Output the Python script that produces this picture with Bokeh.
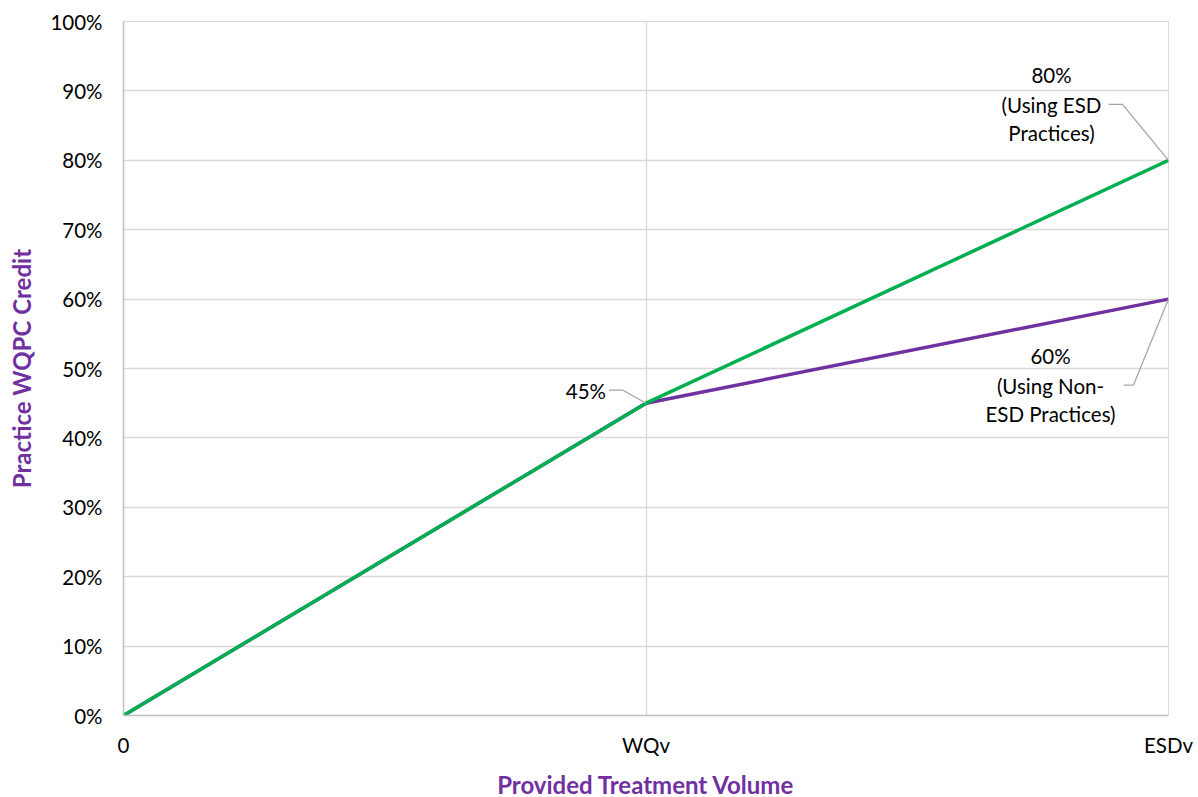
from bokeh.plotting import figure
from bokeh.models import Range1d, FixedTicker, NumeralTickFormatter
from bokeh.core.properties import value
from bokeh.embed import file_html
from bokeh.resources import INLINE

# ---- data ----
x_labels = ["0", "WQv", "ESDv"]
x_pos = [0, 1, 2]
esd_credit = [0.0, 0.45, 0.80]
non_esd_credit = [0.0, 0.45, 0.60]
y_ticks = [0.0, 0.1, 0.2, 0.3, 0.4, 0.5, 0.6, 0.7, 0.8, 0.9, 1.0]

label_45 = ["45%"]
label_80 = ["80%", "(Using ESD", "Practices)"]
label_60 = ["60%", "(Using Non-", "ESD Practices)"]

GREEN = "#00B050"
PURPLE = "#7030A0"
GRID = "#D9D9D9"
FONT = "Lato"
LBL = "20.5px"
TTL = "24px"

FW, FH = 1045, 694
p = figure(frame_width=FW, frame_height=FH, output_backend="svg", toolbar_location=None,
           x_range=Range1d(0, 2), y_range=Range1d(0, 1),
           min_border_left=123, min_border_right=30, min_border_top=21,
           min_border_bottom=82)
p.background_fill_color = "white"
p.border_fill_color = "white"
p.outline_line_color = GRID

dx = 2.0 / FW
dy = 1.0 / FH

# grid
p.xgrid.ticker = FixedTicker(ticks=x_pos)
p.ygrid.ticker = FixedTicker(ticks=y_ticks)
p.xgrid.grid_line_color = GRID
p.ygrid.grid_line_color = GRID
p.xgrid.grid_line_width = 1.3
p.ygrid.grid_line_width = 1.3

# axes
p.xaxis.ticker = FixedTicker(ticks=x_pos)
p.xaxis.major_label_overrides = {x: l for x, l in zip(x_pos, x_labels)}
p.yaxis.ticker = FixedTicker(ticks=y_ticks)
p.yaxis.formatter = NumeralTickFormatter(format="0%")
for ax in (p.xaxis, p.yaxis):
    ax.axis_line_color = "#BFBFBF"
    ax.axis_line_width = 1.5
    ax.major_tick_line_color = None
    ax.minor_tick_line_color = None
    ax.major_tick_out = 0
    ax.major_tick_in = 0
    ax.minor_tick_out = 0
    ax.minor_tick_in = 0
    ax.major_label_text_font = FONT
    ax.major_label_text_font_size = LBL
    ax.major_label_text_color = "#000000"
    ax.axis_label_text_font = FONT
    ax.axis_label_text_font_size = TTL
    ax.axis_label_text_font_style = "bold"
    ax.axis_label_text_color = PURPLE
p.xaxis.major_label_standoff = 17
p.yaxis.major_label_standoff = 21
p.xaxis.axis_label = "Provided Treatment Volume"
p.yaxis.axis_label = "Practice WQPC Credit"
p.xaxis.axis_label_standoff = 10
p.yaxis.axis_label_standoff = 11

# series
p.line(x_pos, non_esd_credit, line_color=PURPLE, line_width=3.5)
p.line(x_pos, esd_credit, line_color=GREEN, line_width=3.5)

# leader lines (anchored at data points, offsets in pixels)
LEAD = "#A6A6A6"
ax1, ay1 = x_pos[1], esd_credit[1]
p.line([ax1, ax1 - 23 * dx, ax1 - 37 * dx], [ay1, ay1 + 13 * dy, ay1 + 13 * dy],
       line_color=LEAD, line_width=1.3)
ax2, ay2 = x_pos[2], esd_credit[2]
p.line([ax2, ax2 - 46 * dx, ax2 - 60 * dx], [ay2, ay2 + 56 * dy, ay2 + 56 * dy],
       line_color=LEAD, line_width=1.3)
ax3, ay3 = x_pos[2], non_esd_credit[2]
p.line([ax3, ax3 - 35 * dx, ax3 - 45 * dx], [ay3, ay3 - 86 * dy, ay3 - 86 * dy],
       line_color=LEAD, line_width=1.3)

# data labels
p.text(x=[ax1], y=[ay1], text=label_45, x_offset=-40, y_offset=-12,
       text_align="right", text_baseline="middle",
       text_font=value(FONT), text_font_size=LBL, text_color="#000000")
p.text(x=[ax2] * 3, y=[ay2] * 3, text=label_80, x_offset=-117,
       y_offset=[-85, -55, -27],
       text_align="center", text_baseline="middle",
       text_font=value(FONT), text_font_size=LBL, text_color="#000000")
p.text(x=[ax3] * 3, y=[ay3] * 3, text=label_60, x_offset=-118,
       y_offset=[57, 87, 115],
       text_align="center", text_baseline="middle",
       text_font=value(FONT), text_font_size=LBL, text_color="#000000")

open("out.html", "w").write(file_html(p, INLINE))
